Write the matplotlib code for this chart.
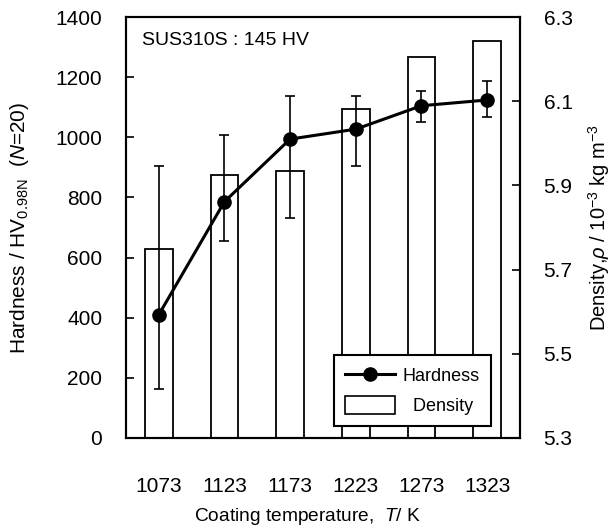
import numpy as np
import matplotlib
matplotlib.use("Agg")
import matplotlib.pyplot as plt
from matplotlib.patches import Patch
from matplotlib.lines import Line2D

plt.rcParams['font.family'] = ['Liberation Sans', 'DejaVu Sans']
plt.rcParams['mathtext.fontset'] = 'custom'
plt.rcParams['mathtext.rm'] = 'Liberation Sans'
plt.rcParams['mathtext.it'] = 'Liberation Sans:italic'
plt.rcParams['mathtext.bf'] = 'Liberation Sans:bold'

# data
temps = ['1073', '1123', '1173', '1223', '1273', '1323']
hardness = [410, 786, 994, 1027, 1105, 1124]
hard_upper = [905, 1007, 1138, 1137, 1155, 1186]
hard_lower = [164, 656, 733, 905, 1052, 1067]
density = [5.749, 5.924, 5.935, 6.081, 6.204, 6.244]
dens_base = 5.3
hard_ticks = [0, 200, 400, 600, 800, 1000, 1200, 1400]
dens_ticks = [5.3, 5.5, 5.7, 5.9, 6.1, 6.3]

fig = plt.figure(figsize=(6.13, 5.30), dpi=100)
ax = fig.add_axes([0.2055, 0.1736, 0.6427, 0.7943])
ax2 = ax.twinx()
ax.set_zorder(ax2.get_zorder() + 1)
ax.patch.set_visible(False)

x = np.arange(len(temps))
ax2.bar(x, np.array(density) - dens_base, bottom=dens_base, width=0.42,
        facecolor='white', edgecolor='black', linewidth=1.3)
ax2.set_ylim(5.3, 6.3)
ax2.set_yticks(dens_ticks)
ax2.set_yticklabels([f'{v:.1f}' for v in dens_ticks])

h = np.array(hardness)
yerr = [h - np.array(hard_lower), np.array(hard_upper) - h]
ax.errorbar(x, h, yerr=yerr, fmt='none', ecolor='black', elinewidth=1.2,
            capsize=3.3, capthick=1.2, zorder=2)
ax.plot(x, h, color='black', lw=2.2, marker='o', markersize=9.5, zorder=3)

ax.set_xlim(-0.5, len(temps) - 0.5)
ax.set_ylim(0, 1400)
ax.set_yticks(hard_ticks)
ax.set_xticks(x)
ax.set_xticklabels(temps)

ax.tick_params(axis='x', length=0, pad=28, labelsize=15)
ax.tick_params(axis='y', direction='in', length=5.5, width=1.2, pad=17, labelsize=15)
ax2.tick_params(axis='y', direction='in', length=5.5, width=1.2, pad=17, labelsize=15)
for a in (ax, ax2):
    for s in a.spines.values():
        s.set_linewidth(1.5)

ax.set_ylabel(r'Hardness / HV$_{\mathregular{0.98N}}$  ($\mathit{N}$=20)', fontsize=15, va='center')
ax.yaxis.set_label_coords(-0.270, 0.5)
ax2.set_ylabel(r'Density,$\rho$ / 10$^{\mathregular{-3}}$ kg m$^{\mathregular{-3}}$', fontsize=14.5,
               va='center', rotation=90)
ax2.yaxis.set_label_coords(1.200, 0.5)
ax.set_xlabel(r'Coating temperature,  $\mathit{T}$/ K', fontsize=13.8, va='center')
ax.xaxis.set_label_coords(0.462, -0.1876)

ax.text(0.04, 0.945, 'SUS310S : 145 HV', transform=ax.transAxes, fontsize=14,
        ha='left', va='center')

handles = [Line2D([], [], color='black', lw=2.2, marker='o', markersize=9.5),
           Patch(facecolor='white', edgecolor='black', linewidth=1.2)]
leg = ax.legend(handles, ['Hardness', '  Density'], loc='lower right',
                bbox_to_anchor=(0.9256, 0.029), borderaxespad=0, fontsize=13,
                fancybox=False, edgecolor='black', framealpha=1,
                handlelength=2.8, handleheight=1.15, labelspacing=0.6,
                borderpad=0.6, handletextpad=0.4)
leg.get_frame().set_linewidth(1.5)

fig.savefig('out.png', dpi=100)
